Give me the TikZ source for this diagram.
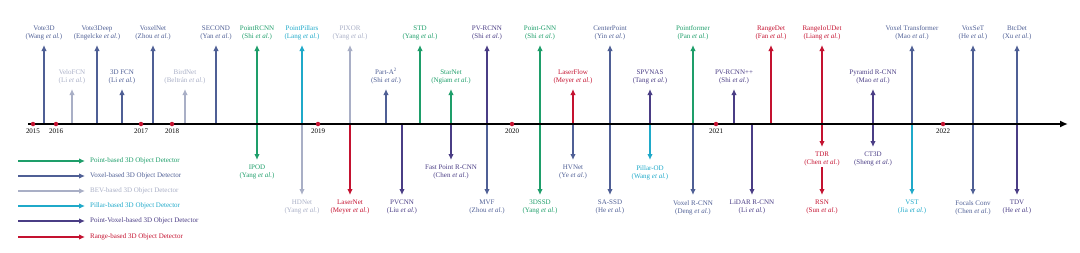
\documentclass[tikz,border=0pt]{standalone}
\usepackage{fontspec}
\setmainfont{Liberation Serif}
\usetikzlibrary{arrows.meta,positioning}
\definecolor{ptc}{HTML}{1E9E6A}
\definecolor{vxc}{HTML}{4F5F95}
\definecolor{bvc}{HTML}{A9AFC6}
\definecolor{plc}{HTML}{1FA9C9}
\definecolor{pvc}{HTML}{4A3D85}
\definecolor{rgc}{HTML}{C41230}

\begin{document}
\begin{tikzpicture}[x=1pt,y=-1pt,font=\fontsize{7}{8}\selectfont,
  lbl/.style={align=center,inner sep=1pt},
  up/.style={lbl,anchor=south},
  dn/.style={lbl,anchor=north},
  arr/.style={line width=2pt,-{Latex[length=6pt,width=5.5pt]},shorten >=4pt},
  dot/.style={circle,fill=rgc,inner sep=0pt,minimum size=4.5pt},
  leg/.style={anchor=west,inner sep=1pt}]
\useasboundingbox (0,0) rectangle (1080,252);
\coordinate (ax) at (28,124);
\coordinate (axend) at (1068,124);
% methods above the time line
\node[up,text=vxc] (vote3d) at (44,41) {Vote3D\\(Wang \textit{et al.})};
\node[up,text=bvc] (velofcn) at (72,85) {VeloFCN\\(Li \textit{et al.})};
\node[up,text=vxc] (vote3deep) at (97,41) {Vote3Deep\\(Engelcke \textit{et al.})};
\node[up,text=vxc] (fcn3d) at (122,85) {3D FCN\\(Li \textit{et al.})};
\node[up,text=vxc] (voxelnet) at (153,41) {VoxelNet\\(Zhou \textit{et al.})};
\node[up,text=bvc] (birdnet) at (185,85) {BirdNet\\(Beltrán \textit{et al.})};
\node[up,text=vxc] (second) at (216,41) {SECOND\\(Yan \textit{et al.})};
\node[up,text=ptc] (pointrcnn) at (257,41) {PointRCNN\\(Shi \textit{et al.})};
\node[up,text=plc] (pointpillars) at (302,41) {PointPillars\\(Lang \textit{et al.})};
\node[up,text=bvc] (pixor) at (350,41) {PIXOR\\(Yang \textit{et al.})};
\node[up,text=vxc] (parta2) at (386,85) {Part-A\textsuperscript{2}\\(Shi \textit{et al.})};
\node[up,text=ptc] (std) at (420,41) {STD\\(Yang \textit{et al.})};
\node[up,text=ptc] (starnet) at (451,85) {StarNet\\(Ngiam \textit{et al.})};
\node[up,text=pvc] (pvrcnn) at (487,41) {PV-RCNN\\(Shi \textit{et al.})};
\node[up,text=ptc] (pointgnn) at (540,41) {Point-GNN\\(Shi \textit{et al.})};
\node[up,text=rgc] (laserflow) at (573,85) {LaserFlow\\(Meyer \textit{et al.})};
\node[up,text=vxc] (centerpoint) at (610,41) {CenterPoint\\(Yin \textit{et al.})};
\node[up,text=pvc] (spvnas) at (650,85) {SPVNAS\\(Tang \textit{et al.})};
\node[up,text=ptc] (pointformer) at (693,41) {Pointformer\\(Pan \textit{et al.})};
\node[up,text=pvc] (pvrcnnpp) at (734,85) {PV-RCNN++\\(Shi \textit{et al.})};
\node[up,text=rgc] (rangedet) at (771,41) {RangeDet\\(Fan \textit{et al.})};
\node[up,text=rgc] (rangeioudet) at (822,41) {RangeIoUDet\\(Liang \textit{et al.})};
\node[up,text=pvc] (pyramid) at (873,85) {Pyramid R-CNN\\(Mao \textit{et al.})};
\node[up,text=vxc] (votr) at (912,41) {Voxel Transformer\\(Mao \textit{et al.})};
\node[up,text=vxc] (voxset) at (973,41) {VoxSeT\\(He \textit{et al.})};
\node[up,text=vxc] (btcdet) at (1017,41) {BtcDet\\(Xu \textit{et al.})};
\foreach \m/\c in {vote3d/vxc,velofcn/bvc,vote3deep/vxc,fcn3d/vxc,voxelnet/vxc,birdnet/bvc,
  second/vxc,pointrcnn/ptc,pointpillars/plc,pixor/bvc,parta2/vxc,std/ptc,starnet/ptc,pvrcnn/pvc,
  pointgnn/ptc,laserflow/rgc,centerpoint/vxc,spvnas/pvc,pointformer/ptc,pvrcnnpp/pvc,rangedet/rgc,
  rangeioudet/rgc,pyramid/pvc,votr/vxc,voxset/vxc,btcdet/vxc}
  \draw[arr,\c] (\m.south |- ax) -- (\m);
% methods below the time line
\node[dn,text=ptc] (ipod) at (257,164) {IPOD\\(Yang \textit{et al.})};
\node[dn,text=bvc] (hdnet) at (302,199) {HDNet\\(Yang \textit{et al.})};
\node[dn,text=rgc] (lasernet) at (350,199) {LaserNet\\(Meyer \textit{et al.})};
\node[dn,text=pvc] (pvcnn) at (402,199) {PVCNN\\(Liu \textit{et al.})};
\node[dn,text=pvc] (fastpoint) at (451,164) {Fast Point R-CNN\\(Chen \textit{et al.})};
\node[dn,text=vxc] (mvf) at (487,199) {MVF\\(Zhou \textit{et al.})};
\node[dn,text=ptc] (ssd3d) at (540,199) {3DSSD\\(Yang \textit{et al.})};
\node[dn,text=vxc] (hvnet) at (573,164) {HVNet\\(Ye \textit{et al.})};
\node[dn,text=vxc] (sassd) at (610,199) {SA-SSD\\(He \textit{et al.})};
\node[dn,text=plc] (pillarod) at (650,164) {Pillar-OD\\(Wang \textit{et al.})};
\node[dn,text=vxc] (voxelrcnn) at (693,199) {Voxel R-CNN\\(Deng \textit{et al.})};
\node[dn,text=pvc] (lidarrcnn) at (752,199) {LiDAR R-CNN\\(Li \textit{et al.})};
\node[dn,text=rgc] (tdr) at (822,151) {TDR\\(Chen \textit{et al.})};
\node[dn,text=rgc] (rsn) at (822,199) {RSN\\(Sun \textit{et al.})};
\node[dn,text=pvc] (ct3d) at (873,151) {CT3D\\(Sheng \textit{et al.})};
\node[dn,text=plc] (vst) at (912,199) {VST\\(Jia \textit{et al.})};
\node[dn,text=vxc] (focals) at (973,199) {Focals Conv\\(Chen \textit{et al.})};
\node[dn,text=pvc] (tdv) at (1017,199) {TDV\\(He \textit{et al.})};
\foreach \m/\c in {ipod/ptc,hdnet/bvc,lasernet/rgc,pvcnn/pvc,fastpoint/pvc,mvf/vxc,ssd3d/ptc,
  hvnet/vxc,sassd/vxc,pillarod/plc,voxelrcnn/vxc,lidarrcnn/pvc,tdr/rgc,ct3d/pvc,vst/plc,
  focals/vxc,tdv/pvc}
  \draw[arr,\c] (\m.north |- ax) -- (\m);
\draw[arr,rgc] (tdr) -- (rsn);
% time line and years
\draw[line width=1.6pt,-{Latex[length=8pt,width=7pt]}] (ax) -- (axend);
\node[dot] (y2015) at (33,124) {};
\node[dot] (y2016) at (56,124) {};
\node[dot] (y2017) at (141,124) {};
\node[dot] (y2018) at (172,124) {};
\node[dot] (y2019) at (318,124) {};
\node[dot] (y2020) at (512,124) {};
\node[dot] (y2021) at (716,124) {};
\node[dot] (y2022) at (943,124) {};
\foreach \y in {2015,2016,2017,2018,2019,2020,2021,2022}
  \node[inner sep=1pt,below=1pt of y\y] (t\y) {\y};
% legend
\coordinate (k1) at (18,161);
\coordinate (k2) at (18,176);
\coordinate (k3) at (18,191);
\coordinate (k4) at (18,206);
\coordinate (k5) at (18,221);
\coordinate (k6) at (18,237);
\node[leg,text=ptc] (lpt) at (89,161) {Point-based 3D Object Detector};
\node[leg,text=vxc] (lvx) at (89,176) {Voxel-based 3D Object Detector};
\node[leg,text=bvc] (lbv) at (89,191) {BEV-based 3D Object Detector};
\node[leg,text=plc] (lpl) at (89,206) {Pillar-based 3D Object Detector};
\node[leg,text=pvc] (lpv) at (89,221) {Point-Voxel-based 3D Object Detector};
\node[leg,text=rgc] (lrg) at (89,237) {Range-based 3D Object Detector};
\draw[arr,ptc] (k1) -- (lpt);
\draw[arr,vxc] (k2) -- (lvx);
\draw[arr,bvc] (k3) -- (lbv);
\draw[arr,plc] (k4) -- (lpl);
\draw[arr,pvc] (k5) -- (lpv);
\draw[arr,rgc] (k6) -- (lrg);
\end{tikzpicture}
\end{document}
